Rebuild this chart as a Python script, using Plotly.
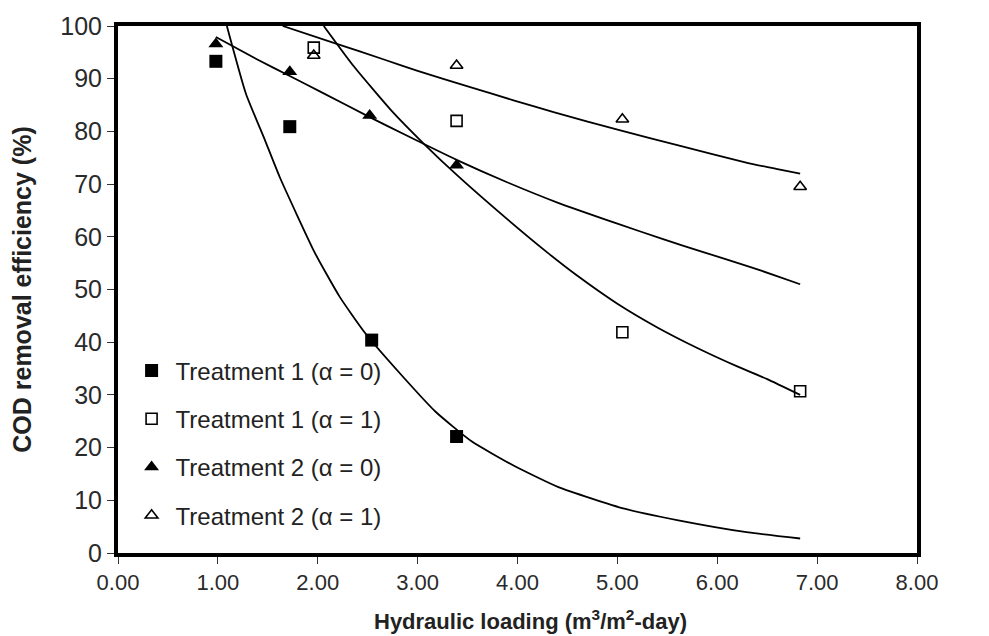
import plotly.graph_objects as go

# Measured COD removal efficiency (%) versus hydraulic loading (m3/m2-day)
t1_a0_x = [0.98, 1.72, 2.54, 3.39]
t1_a0_y = [93.3, 80.9, 40.4, 22.1]

t1_a1_x = [1.96, 3.39, 5.05, 6.83]
t1_a1_y = [95.9, 82.0, 41.9, 30.7]

t2_a0_x = [0.98, 1.72, 2.52, 3.39]
t2_a0_y = [96.6, 91.3, 83.0, 73.6]

t2_a1_x = [1.96, 3.39, 5.05, 6.83]
t2_a1_y = [94.4, 92.5, 82.3, 69.5]

# Fitted model curves
fit_t1_a0_x = [1.09, 1.28, 1.47, 1.62, 1.97, 2.22, 2.48, 2.86, 3.18, 3.54, 3.96, 4.41, 5.07, 5.61, 6.31, 6.83]
fit_t1_a0_y = [100.0, 87.2, 78.4, 71.3, 57.0, 48.6, 41.6, 33.3, 26.8, 21.2, 16.6, 12.5, 8.4, 6.2, 3.9, 2.75]

fit_t1_a1_x = [2.06, 2.35, 2.74, 3.06, 3.40, 3.90, 4.30, 4.60, 5.00, 5.40, 5.80, 6.20, 6.50, 6.83]
fit_t1_a1_y = [100.0, 92.6, 83.9, 77.7, 71.6, 63.3, 57.0, 52.6, 47.3, 42.8, 38.9, 35.4, 33.0, 30.0]

fit_t2_a0_x = [0.98, 1.40, 1.72, 2.03, 2.52, 2.87, 3.39, 3.89, 4.40, 5.00, 5.45, 5.86, 6.31, 6.59, 6.83]
fit_t2_a0_y = [97.9, 93.6, 90.5, 87.5, 82.7, 79.4, 74.6, 70.4, 66.5, 62.5, 59.6, 57.1, 54.4, 52.6, 51.0]

fit_t2_a1_x = [1.65, 2.16, 2.67, 3.00, 3.51, 3.96, 4.37, 5.03, 5.62, 6.31, 6.59, 6.83]
fit_t2_a1_y = [100.0, 96.8, 93.6, 91.5, 88.5, 85.9, 83.6, 80.2, 77.3, 74.0, 72.9, 72.0]

x_ticks = [0, 1, 2, 3, 4, 5, 6, 7, 8]
y_ticks = [0, 10, 20, 30, 40, 50, 60, 70, 80, 90, 100]

FONT = "Liberation Sans, Arial, sans-serif"
INK = "#222222"
TICK_INK = "#2a2a2a"

fig = go.Figure()

for fx, fy in [(fit_t1_a0_x, fit_t1_a0_y), (fit_t1_a1_x, fit_t1_a1_y),
               (fit_t2_a0_x, fit_t2_a0_y), (fit_t2_a1_x, fit_t2_a1_y)]:
    fig.add_trace(go.Scatter(
        x=fx, y=fy, mode="lines", showlegend=False, hoverinfo="skip",
        line=dict(color="black", width=1.8, shape="spline", smoothing=0.5),
    ))

series = [
    ("Treatment 1 (\u03b1 = 0)", t1_a0_x, t1_a0_y, "square", 13, "black", 0),
    ("Treatment 1 (\u03b1 = 1)", t1_a1_x, t1_a1_y, "square-open", 11, "black", 1.6),
    ("Treatment 2 (\u03b1 = 0)", t2_a0_x, t2_a0_y, "triangle-up", 13, "black", 0),
    ("Treatment 2 (\u03b1 = 1)", t2_a1_x, t2_a1_y, "triangle-up-open", 11, "black", 1.6),
]
for i, (name, sx, sy, sym, size, col, lw) in enumerate(series):
    fig.add_trace(go.Scatter(
        x=sx, y=sy, mode="markers", name=name, legendgroup=f"g{i}",
        marker=dict(symbol=sym, size=size, color=col,
                    line=dict(color="black", width=lw)),
    ))

fig.update_layout(
    width=989, height=636,
    margin=dict(l=118, r=72, t=19, b=83),
    paper_bgcolor="white", plot_bgcolor="white",
    font=dict(family=FONT, color=INK),
    legend=dict(
        x=0.012, y=0.388, xanchor="left", yanchor="top",
        bgcolor="rgba(0,0,0,0)", borderwidth=0,
        font=dict(size=24, family=FONT, color=INK),
        tracegroupgap=14, itemsizing="trace", itemwidth=38,
    ),
    xaxis=dict(
        range=[0, 8], tickvals=x_ticks, tickformat=".2f",
        showgrid=False, zeroline=False,
        showline=True, linewidth=4, linecolor="black", mirror=True,
        ticks="outside", ticklen=7, tickwidth=1, tickcolor="#333",
        tickfont=dict(size=22, color=TICK_INK),
    ),
    yaxis=dict(
        range=[0, 100], tickvals=y_ticks,
        showgrid=False, zeroline=False,
        showline=True, linewidth=4, linecolor="black", mirror=True,
        ticks="outside", ticklen=7, tickwidth=1, tickcolor="#333",
        tickfont=dict(size=25, color=TICK_INK),
        title=dict(text="<b>COD removal efficiency (%)</b>",
                   font=dict(size=25, color=INK), standoff=23),
    ),
    annotations=[dict(
        text="<b>Hydraulic loading (m<sup>3</sup>/m<sup>2</sup>-day)</b>",
        xref="paper", yref="paper", x=0.516, y=-0.128,
        xanchor="center", yanchor="middle", showarrow=False,
        font=dict(size=22, color=INK, family=FONT),
    )],
)

fig.write_html("out.html")
